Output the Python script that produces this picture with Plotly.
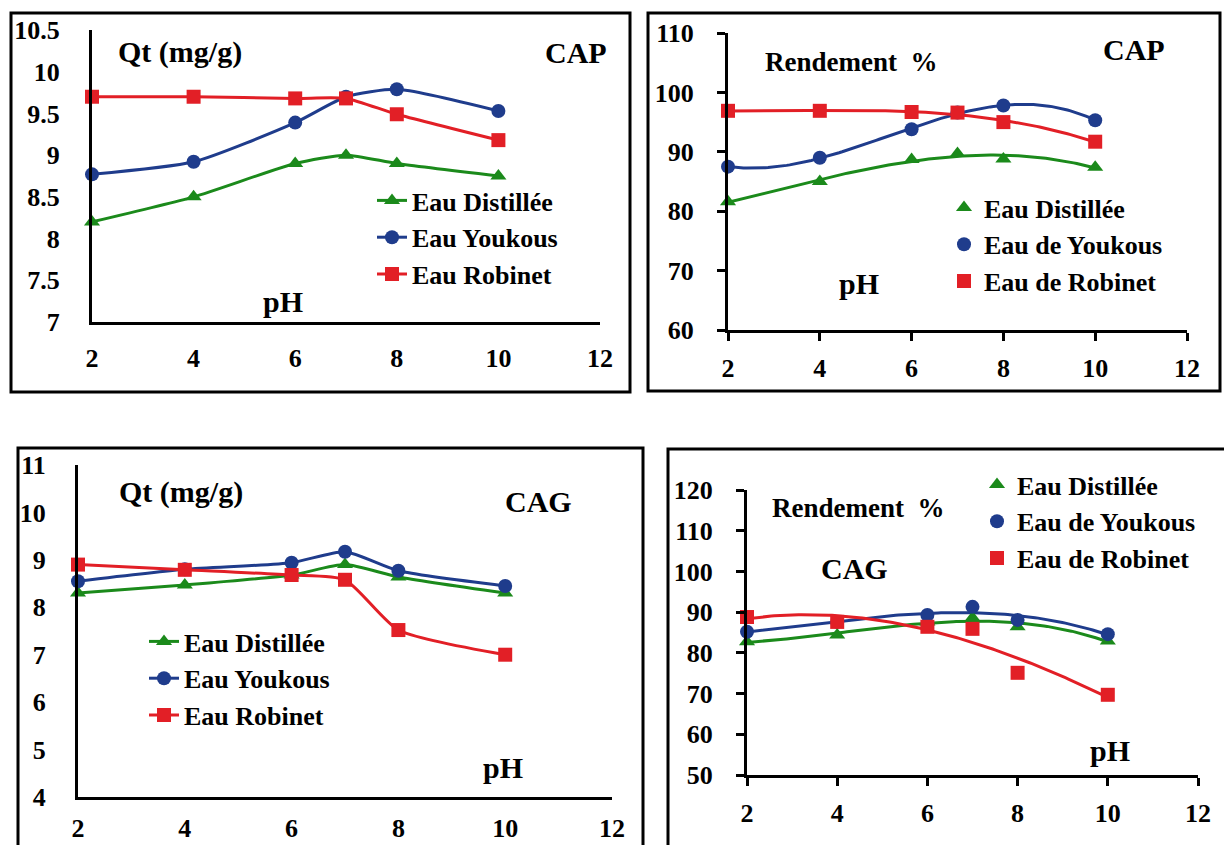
import numpy as np
import plotly.graph_objects as go

W, H = 1224, 845
FONT = "Liberation Serif, Times New Roman, serif"
GREEN = "#1b8a1b"
BLUE = "#1f3c8c"
RED = "#e21f26"

ph = [2, 4, 6, 7, 8, 10]

# Panel 1: Qt (mg/g) - CAP
qt_cap_dist = [8.2, 8.5, 8.9, 9.0, 8.9, 8.75]
qt_cap_youk = [8.77, 8.92, 9.39, 9.7, 9.79, 9.53]
qt_cap_rob = [9.7, 9.7, 9.68, 9.68, 9.49, 9.18]

# Panel 2: Rendement % - CAP
r_cap_dist = [81.6, 85.0, 88.7, 89.7, 88.8, 87.4]
r_cap_youk = [87.5, 89.0, 93.8, 96.6, 97.8, 95.3]
r_cap_rob = [96.9, 96.9, 96.7, 96.6, 95.0, 91.7]

# Panel 3: Qt (mg/g) - CAG
qt_cag_dist = [8.3, 8.47, 8.68, 8.9, 8.64, 8.3]
qt_cag_youk = [8.55, 8.8, 8.94, 9.17, 8.77, 8.45]
qt_cag_rob = [8.9, 8.79, 8.68, 8.58, 7.52, 7.0]

# Panel 4: Rendement % - CAG
r_cag_dist = [82.7, 84.4, 87.6, 88.6, 86.4, 82.9]
r_cag_youk = [85.2, 87.6, 89.3, 91.3, 88.1, 84.6]
r_cag_rob = [88.8, 87.6, 86.4, 85.9, 75.1, 69.7]

names_a = ["Eau Distillée", "Eau Youkous", "Eau Robinet"]
names_b = ["Eau Distillée", "Eau de Youkous", "Eau de Robinet"]
colors = [GREEN, BLUE, RED]
symbols = ["triangle-up", "circle", "square"]


def px_x(x):
    return x / W


def px_y(y):
    return 1 - y / H


fig = go.Figure()

# panel boxes: (x0, y0, x1, y1) in pixels
boxes = [(11, 13, 630, 392), (648, 13, 1220, 391), (18, 448, 643, 860), (668, 449, 1240, 860)]
for (x0, y0, x1, y1) in boxes:
    fig.add_shape(type="rect", xref="paper", yref="paper",
                  x0=px_x(x0), x1=px_x(x1), y0=px_y(y1), y1=px_y(y0),
                  line=dict(color="black", width=3), fillcolor="rgba(0,0,0,0)", layer="above")

# axes domains (pixels): x0, x1, ytop, ybottom
domains = {
    1: (92, 600, 30, 322),
    2: (728, 1187, 33, 330),
    3: (78, 612, 465, 797),
    4: (747, 1198, 490, 775),
}
yranges = {1: (7, 10.5, 0.5), 2: (60, 110, 10), 3: (4, 11, 1), 4: (50, 120, 10)}
has_ticks = {1: False, 2: True, 3: False, 4: True}
xstandoff = {1: 11, 2: 5, 3: 6, 4: 5}

tickfont = dict(family=FONT, size=26, color="black", weight="bold")

for i in range(1, 5):
    x0, x1, yt, yb = domains[i]
    lo, hi, dt = yranges[i]
    sfx = "" if i == 1 else str(i)
    t = has_ticks[i]
    fig.update_layout(**{
        "xaxis" + sfx: dict(domain=[px_x(x0), px_x(x1)], range=[2, 12], tickvals=[2, 4, 6, 8, 10, 12],
                            anchor="y" + sfx, showline=True, linecolor="black", linewidth=3,
                            showgrid=False, zeroline=False, tickfont=tickfont, automargin=False,
                            ticks="outside" if t else "", ticklen=8, tickwidth=3, tickcolor="black",
                            ticklabelstandoff=xstandoff[i]),
        "yaxis" + sfx: dict(domain=[px_y(yb), px_y(yt)], range=[lo, hi],
                            tickvals=list(np.arange(lo, hi + dt / 2, dt)),
                            anchor="x" + sfx, showline=True, linecolor="black", linewidth=3,
                            showgrid=False, zeroline=False, tickfont=tickfont, automargin=False,
                            ticks="outside" if t else "", ticklen=8, tickwidth=3, tickcolor="black",
                            ticklabelstandoff=18 if t else 24),
    })

legfont = dict(family=FONT, size=26, color="black", weight="bold")

# Panels 1 & 3: lines with markers (smoothed)
for i, series, leg in [(1, [qt_cap_dist, qt_cap_youk, qt_cap_rob], "legend"),
                       (3, [qt_cag_dist, qt_cag_youk, qt_cag_rob], "legend3")]:
    sfx = "" if i == 1 else str(i)
    for s, nm, c, sym in zip(series, names_a, colors, symbols):
        fig.add_trace(go.Scatter(
            x=ph, y=s, name=nm, mode="lines+markers", xaxis="x" + sfx, yaxis="y" + sfx,
            line=dict(color=c, width=3, shape="spline", smoothing=0.6),
            marker=dict(symbol=sym, size=14, color=c),
            legend=leg, cliponaxis=False))

# Panels 2 & 4: markers with polynomial trend curves
xs = np.linspace(2, 10, 120)
for i, series, leg in [(2, [r_cap_dist, r_cap_youk, r_cap_rob], "legend2"),
                       (4, [r_cag_dist, r_cag_youk, r_cag_rob], "legend4")]:
    sfx = str(i)
    for s, nm, c, sym in zip(series, names_b, colors, symbols):
        coef = np.polyfit(ph, s, 3)
        fig.add_trace(go.Scatter(
            x=xs, y=np.polyval(coef, xs), mode="lines", xaxis="x" + sfx, yaxis="y" + sfx,
            line=dict(color=c, width=3), showlegend=False, hoverinfo="skip"))
    for s, nm, c, sym in zip(series, names_b, colors, symbols):
        fig.add_trace(go.Scatter(
            x=ph, y=s, name=nm, mode="markers", xaxis="x" + sfx, yaxis="y" + sfx,
            marker=dict(symbol=sym, size=14, color=c), legend=leg, cliponaxis=False))

common_leg = dict(font=legfont, bgcolor="rgba(0,0,0,0)", borderwidth=0, tracegroupgap=0,
                  xref="paper", yref="paper", xanchor="left", yanchor="top",
                  itemclick=False, itemdoubleclick=False)
fig.update_layout(
    legend=dict(**common_leg, x=px_x(372), y=px_y(177)),
    legend2=dict(**common_leg, x=px_x(944), y=px_y(184)),
    legend3=dict(**common_leg, x=px_x(144), y=px_y(618)),
    legend4=dict(**common_leg, x=px_x(977), y=px_y(461)),
)

ann = [
    ("Qt (mg/g)", 180, 52), ("CAP", 576, 52), ("pH", 283, 302),
    ("Rendement\u00a0 %", 851, 62), ("CAP", 1134, 50), ("pH", 859, 283),
    ("Qt (mg/g)", 181, 492), ("CAG", 538, 502), ("pH", 503, 767),
    ("Rendement\u00a0 %", 858, 508), ("CAG", 854, 568), ("pH", 1110, 750),
]
sizes = [30, 30, 30, 27, 30, 30, 30, 30, 30, 27, 30, 30]
for (txt, x, y), sz in zip(ann, sizes):
    fig.add_annotation(text="<b>" + txt + "</b>", xref="paper", yref="paper",
                       x=px_x(x), y=px_y(y), xanchor="center", yanchor="middle",
                       showarrow=False, font=dict(family=FONT, size=sz, color="black"))

fig.update_layout(width=W, height=H, margin=dict(l=0, r=0, t=0, b=0, autoexpand=False),
                  paper_bgcolor="white", plot_bgcolor="white", showlegend=True)

fig.write_html("out.html")
